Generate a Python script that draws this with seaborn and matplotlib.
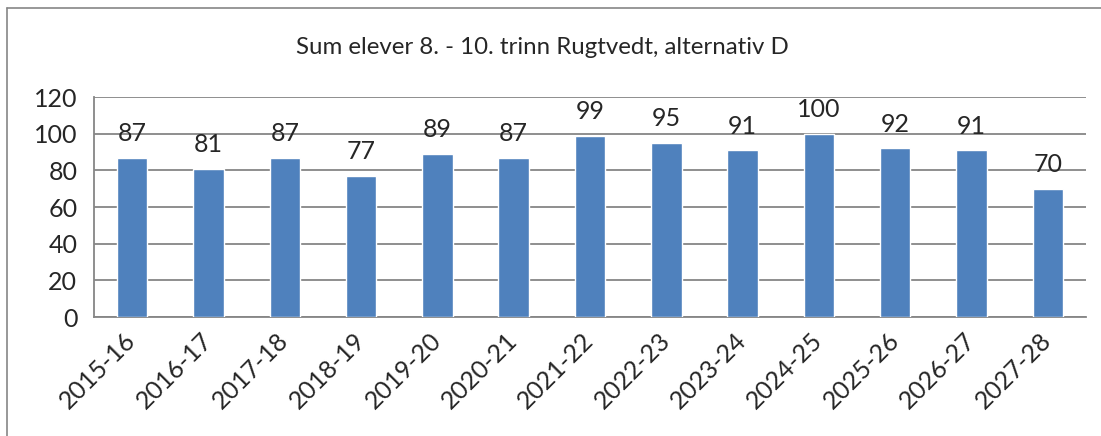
import matplotlib
matplotlib.use("Agg")
import matplotlib.pyplot as plt
import seaborn as sns
import pandas as pd
from matplotlib.lines import Line2D
from matplotlib.ticker import FixedLocator

seasons = ["2015-16", "2016-17", "2017-18", "2018-19", "2019-20", "2020-21", "2021-22",
           "2022-23", "2023-24", "2024-25", "2025-26", "2026-27", "2027-28"]
students = [87, 81, 87, 77, 89, 87, 99, 95, 91, 100, 92, 91, 70]
title = "Sum elever 8. - 10. trinn Rugtvedt, alternativ D"

df = pd.DataFrame({"season": seasons, "students": students})

sns.set_style("white")
plt.rcParams["font.family"] = ["Lato", "DejaVu Sans"]

W, H = 1101, 436
fig = plt.figure(figsize=(W / 100, H / 100), dpi=100)
ax = fig.add_axes([94 / W, 1 - 317 / H, (1086 - 94) / W, (317 - 97) / H])

sns.barplot(data=df, x="season", y="students", color="#4F81BD", saturation=1,
            width=0.4, ax=ax, zorder=3)

ax.set_ylim(0, 120)
ax.set_xlim(-0.5, len(seasons) - 0.5)
ax.set_yticks(range(0, 121, 20))
ax.yaxis.grid(True, color="#868686", linewidth=1.3, zorder=0)
ax.set_xlabel("")
ax.set_ylabel("")

for s in ["top", "right"]:
    ax.spines[s].set_visible(False)
for s in ["left", "bottom"]:
    ax.spines[s].set_color("#868686")
    ax.spines[s].set_linewidth(1.3)

ax.tick_params(axis="y", length=8, width=1.3, color="#868686", labelsize=18, pad=4)
ax.tick_params(axis="x", which="major", length=0, labelsize=18, pad=14)
ax.xaxis.set_minor_locator(FixedLocator([i - 0.5 for i in range(len(seasons) + 1)]))
ax.tick_params(axis="x", which="minor", length=8, width=1.3, color="#868686")
for lab in ax.get_xticklabels():
    lab.set_rotation(45)
    lab.set_ha("right")
    lab.set_va("center")
    lab.set_rotation_mode("anchor")

for i, v in enumerate(students):
    ax.annotate(str(v), (i, v), xytext=(0, 9), textcoords="offset points",
                ha="center", va="bottom", fontsize=18)

fig.text(542 / W, 1 - 47 / H, title, ha="center", va="center", fontsize=17.3)

# chart frame
fig.add_artist(Line2D([7 / W, 7 / W], [0, 1 - 8 / H], color="#868686", lw=1.2))
fig.add_artist(Line2D([7 / W, 1], [1 - 8 / H, 1 - 8 / H], color="#868686", lw=1.2))

fig.savefig("out.png", dpi=100)
